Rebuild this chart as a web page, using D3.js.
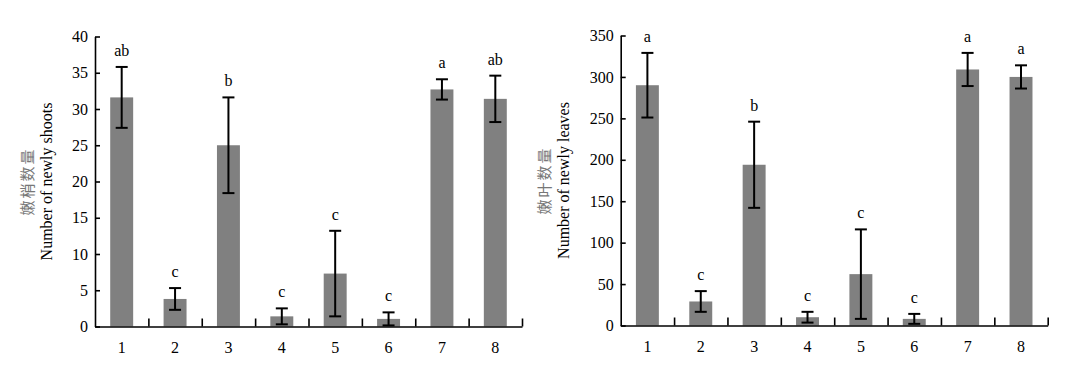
<!DOCTYPE html>
<html>
<meta charset="utf-8">
<title>Newly shoots and leaves</title>
<script src="https://d3js.org/d3.v7.min.js" charset="utf-8"></script>
<style>
	body { margin: 0; background: #fff; }
	text { font-family: "Liberation Serif", "Times New Roman", serif; }
	.axis path, .axis line { stroke: #000; stroke-width: 1.6; }
	.axis text { font-family: "Liberation Serif", serif; font-size: 16px; fill: #000; }
	.bar { fill: #808080; }
	.err line { stroke: #000; stroke-width: 2; }
	.letter { font-size: 16px; text-anchor: middle; fill: #000; }
	.ylab-cn { font-family: "Noto Sans CJK SC", sans-serif; font-size: 15px; fill: #777; letter-spacing: 2px; }
	.ylab-en { font-size: 16px; fill: #000; }
</style>
<body>
<script>

	// treatments on the x axis
	var categories = ["1", "2", "3", "4", "5", "6", "7", "8"];

	// left panel: newly shoots
	var shootMean   = [31.6, 3.8, 25.0, 1.4, 7.3, 1.05, 32.7, 31.4];
	var shootErr    = [4.2, 1.5, 6.6, 1.1, 5.9, 0.9, 1.4, 3.2];
	var shootLetter = ["ab", "c", "b", "c", "c", "c", "a", "ab"];
	var shootTicks  = [0, 5, 10, 15, 20, 25, 30, 35, 40];

	// right panel: newly leaves
	var leafMean   = [290, 29, 194, 10, 62, 8, 309, 300];
	var leafErr    = [39, 12.5, 52, 6.5, 54, 6, 20, 14];
	var leafLetter = ["a", "c", "b", "c", "c", "c", "a", "a"];
	var leafTicks  = [0, 50, 100, 150, 200, 250, 300, 350];

	var width = 427, height = 290;

	var svg = d3.select("body").append("svg")
		.attr("width", 1067)
		.attr("height", 367);

	function panel(left, top, mean, err, letters, ticks, ymax, cn, zh, en) {
		var g = svg.append("g")
			.attr("transform", "translate(" + left + "," + top + ")");

		var x = d3.scaleBand().domain(categories).range([0, width])
			.paddingInner(0.57).paddingOuter(0.285);
		var edge = d3.scaleLinear().domain([0, categories.length]).range([0, width]);
		var y = d3.scaleLinear().domain([0, ymax]).range([height, 0]);

		var rows = categories.map(function(c, i) {
			return {c: c, v: mean[i], e: err[i], l: letters[i]};
		});

		g.selectAll(".bar")
			.data(rows)
			.enter().append("rect")
			.attr("class", "bar")
			.attr("x", function(d) { return x(d.c); })
			.attr("width", x.bandwidth())
			.attr("y", function(d) { return y(d.v); })
			.attr("height", function(d) { return height - y(d.v); });

		/* error bars with caps */
		var eb = g.selectAll(".err")
			.data(rows)
			.enter().append("g")
			.attr("class", "err")
			.attr("transform", function(d) { return "translate(" + (x(d.c) + x.bandwidth() / 2) + ",0)"; });

		eb.append("line")
			.attr("y1", function(d) { return y(d.v + d.e); })
			.attr("y2", function(d) { return y(Math.max(0, d.v - d.e)); });
		eb.append("line")
			.attr("x1", -6).attr("x2", 6)
			.attr("y1", function(d) { return y(d.v + d.e); })
			.attr("y2", function(d) { return y(d.v + d.e); });
		eb.append("line")
			.attr("x1", -6).attr("x2", 6)
			.attr("y1", function(d) { return y(Math.max(0, d.v - d.e)); })
			.attr("y2", function(d) { return y(Math.max(0, d.v - d.e)); });

		g.selectAll(".letter")
			.data(rows)
			.enter().append("text")
			.attr("class", "letter")
			.attr("x", function(d) { return x(d.c) + x.bandwidth() / 2; })
			.attr("y", function(d) { return y(d.v + d.e) - 11; })
			.text(function(d) { return d.l; });

		/* axes */
		g.append("g")
			.attr("class", "axis")
			.call(d3.axisLeft(y).tickValues(ticks).tickSizeInner(-5).tickSizeOuter(0).tickPadding(7));

		g.append("g")
			.attr("class", "axis")
			.attr("transform", "translate(0," + height + ")")
			.call(d3.axisBottom(edge).tickValues(d3.range(1, categories.length + 1))
				.tickSizeInner(-8).tickSizeOuter(0).tickFormat(""));

		g.append("g")
			.attr("class", "axis")
			.attr("transform", "translate(0," + height + ")")
			.call(d3.axisBottom(x).tickSize(0).tickPadding(15))
			.select(".domain").remove();

		g.append("text")
			.attr("class", "ylab-cn")
			.attr("transform", "translate(" + cn + "," + (height / 2) + ")rotate(-90)")
			.attr("text-anchor", "middle")
			.attr("dy", ".35em")
			.text(zh);

		g.append("text")
			.attr("class", "ylab-en")
			.attr("transform", "translate(" + (cn + 18.5) + "," + (height / 2) + ")rotate(-90)")
			.attr("text-anchor", "middle")
			.attr("dy", ".35em")
			.text(en);
	}

	panel(95, 36.5, shootMean, shootErr, shootLetter, shootTicks, 40, -67, "嫩梢数量", "Number of newly shoots");
	panel(620.7, 35.5, leafMean, leafErr, leafLetter, leafTicks, 350, -75.5, "嫩叶数量", "Number of newly leaves");

</script>
</body>
</html>
